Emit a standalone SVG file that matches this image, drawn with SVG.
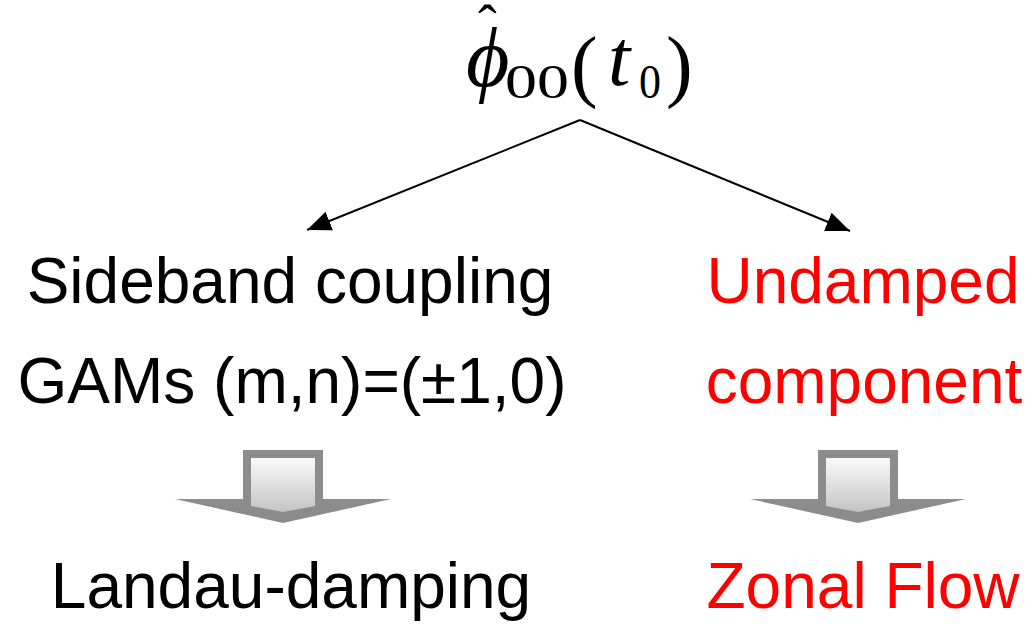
<svg xmlns="http://www.w3.org/2000/svg" width="1034" height="628" viewBox="0 0 1034 628">
<style>
.lbl{font-family:"Liberation Sans",Arial,sans-serif;font-size:64px;text-anchor:middle}
.blk{fill:#000}
.red{fill:#ff0000}
.math{font-family:"Liberation Serif","Times New Roman",serif;fill:#000}
.conn{stroke:#000;stroke-width:2;fill:none}
.outer{fill:#8c8c8c}
</style>
<defs>
<marker id="ah" markerUnits="userSpaceOnUse" markerWidth="26" markerHeight="22" viewBox="0 0 26 22" refX="24" refY="11" orient="auto">
<path d="M0,1 L24,11 L0,21 Z" fill="#000"/>
</marker>
<linearGradient id="g" x1="0" y1="0" x2="0" y2="1">
<stop offset="0" stop-color="#fafafa"/>
<stop offset="1" stop-color="#c4c4c4"/>
</linearGradient>
</defs>
<g id="title">
<text class="math" x="466" y="86" font-size="84" font-style="italic">ϕ</text>
<text class="math" x="478" y="44" font-size="56">ˆ</text>
<text class="math" x="505" y="98" font-size="48" textLength="64" lengthAdjust="spacingAndGlyphs">00</text>
<text class="math" x="571" y="92" font-size="80">(</text>
<text class="math" x="608" y="85" font-size="80" font-style="italic">t</text>
<text class="math" x="639" y="98" font-size="48" textLength="22" lengthAdjust="spacingAndGlyphs">0</text>
<text class="math" x="666" y="92" font-size="80">)</text>
</g>
<g id="connectors">
<line class="conn" x1="580" y1="120" x2="307" y2="230" marker-end="url(#ah)"/>
<line class="conn" x1="580" y1="120" x2="850" y2="231" marker-end="url(#ah)"/>
</g>
<g id="sideband">
<text class="lbl blk" x="290" y="303">Sideband coupling</text>
<text class="lbl blk" x="292" y="403">GAMs (m,n)=(±1,0)</text>
</g>
<g id="undamped">
<text class="lbl red" x="863" y="303">Undamped</text>
<text class="lbl red" x="864" y="403">component</text>
</g>
<g id="arrow-left">
<path class="outer" d="M243,450 L323,450 L323,499 L391,499 L283,523 L175,499 L243,499 Z"/>
<path fill="url(#g)" d="M251,458 L315,458 L315,506 L283,512 L251,506 Z"/>
</g>
<g id="arrow-right">
<path class="outer" d="M818,450 L898,450 L898,499 L966,499 L858,523 L750,499 L818,499 Z"/>
<path fill="url(#g)" d="M826,458 L890,458 L890,506 L858,512 L826,506 Z"/>
</g>
<g id="landau">
<text class="lbl blk" x="291" y="608">Landau-damping</text>
</g>
<g id="zonal">
<text class="lbl red" x="863" y="608">Zonal Flow</text>
</g>
</svg>
